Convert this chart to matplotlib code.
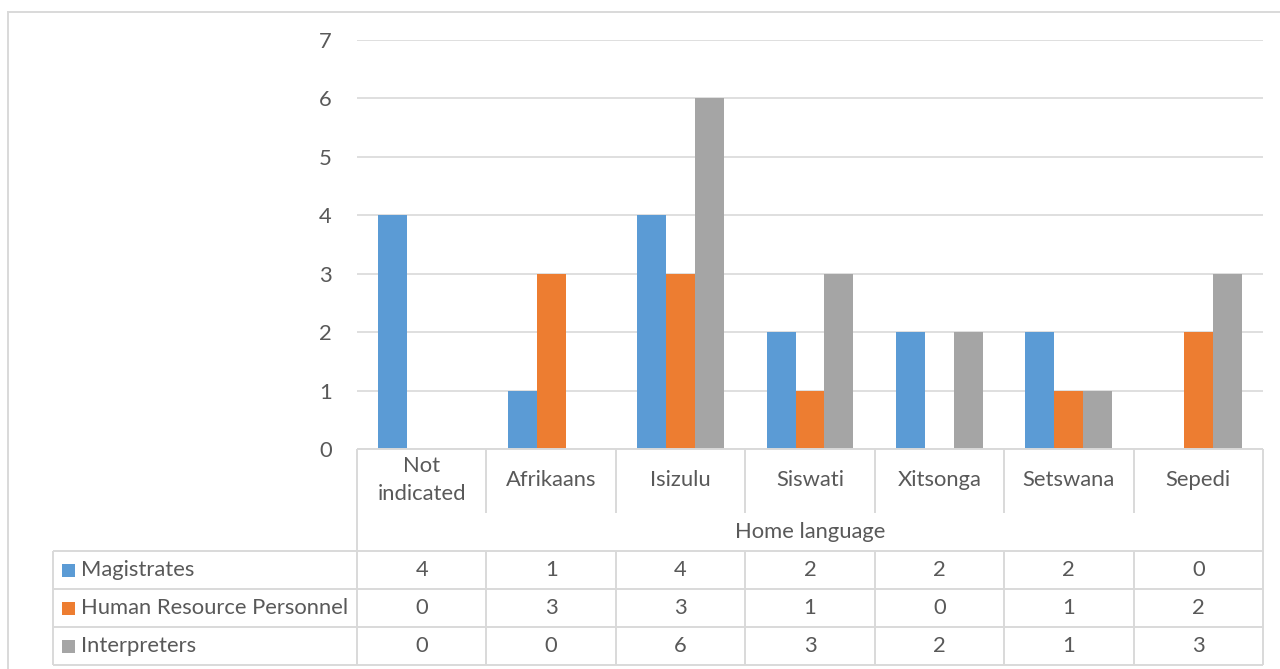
import matplotlib
matplotlib.use("Agg")
import matplotlib.pyplot as plt
from matplotlib.patches import Rectangle

categories = ["Not\nindicated", "Afrikaans", "Isizulu", "Siswati", "Xitsonga", "Setswana", "Sepedi"]
series_names = ["Magistrates", "Human Resource Personnel", "Interpreters"]
magistrates = [4, 1, 4, 2, 2, 2, 0]
hr_personnel = [0, 3, 3, 1, 0, 1, 2]
interpreters = [0, 0, 6, 3, 2, 1, 3]
axis_title = "Home language"
y_ticks = [0, 1, 2, 3, 4, 5, 6, 7]

series = [magistrates, hr_personnel, interpreters]
colors = ["#5B9BD5", "#ED7D31", "#A5A5A5"]
txt = "#595959"
grid = "#D9D9D9"
FONT = "Lato"
FS = 15.8

W, H = 1280, 669
fig = plt.figure(figsize=(W / 100, H / 100), dpi=100)

# pixel layout
px_left, px_right = 357, 1263
px_top, px_zero = 40, 449
ax = fig.add_axes([px_left / W, 1 - px_zero / H, (px_right - px_left) / W, (px_zero - px_top) / H])
n = len(categories)
ax.set_xlim(0, n)
ax.set_ylim(0, 7)
bw = 0.224
for k, (vals, c) in enumerate(zip(series, colors)):
    xs = [i + 0.5 + (k - 1) * bw for i in range(n)]
    ax.bar(xs, vals, width=bw, color=c, linewidth=0, zorder=3)
ax.set_yticks(y_ticks)
ax.set_yticklabels([str(v) for v in y_ticks], fontname=FONT, fontsize=FS, color=txt)
ax.tick_params(axis="y", length=0, pad=18)
ax.set_xticks([])
for s in ax.spines.values():
    s.set_visible(False)
ax.yaxis.grid(True, color=grid, linewidth=1.2, zorder=0)
ax.set_axisbelow(True)

# overlay in pixel coordinates for the data table
ov = fig.add_axes([0, 0, 1, 1])
ov.set_xlim(0, W)
ov.set_ylim(H, 0)
ov.axis("off")
lw = 1.4

def hline(y, x0, x1):
    ov.plot([x0, x1], [y, y], color=grid, linewidth=lw, solid_capstyle="butt")

def vline(x, y0, y1):
    ov.plot([x, x], [y0, y1], color=grid, linewidth=lw, solid_capstyle="butt")

# outer chart border
ov.plot([7.5, 7.5], [H, 11.5], color=grid, linewidth=1.4)
ov.plot([7.5, W], [11.5, 11.5], color=grid, linewidth=1.4)

colw = (px_right - px_left) / n
col_x = [px_left + i * colw for i in range(n + 1)]
tab_left = 53
row_cat_bottom = 513
row_title_bottom = 551
rows = [551, 589, 627, 665]

# header box
hline(px_zero, px_left, px_right)
vline(px_left, px_zero, row_title_bottom)
vline(px_right, px_zero, row_title_bottom)
for x in col_x[1:-1]:
    vline(x, px_zero, row_cat_bottom)
for i, cat in enumerate(categories):
    ov.text((col_x[i] + col_x[i + 1]) / 2, 480, cat, ha="center", va="center",
            fontname=FONT, fontsize=FS, color=txt, linespacing=1.45)
ov.text((px_left + px_right) / 2, 532, axis_title, ha="center", va="center",
        fontname=FONT, fontsize=FS, color=txt)

# data rows
for y in rows:
    hline(y, tab_left, px_right)
vline(tab_left, rows[0], rows[-1])
for x in col_x:
    vline(x, rows[0], rows[-1])
for r, (name, vals, c) in enumerate(zip(series_names, series, colors)):
    yc = (rows[r] + rows[r + 1]) / 2
    ov.add_patch(Rectangle((62, yc - 6.5), 13, 13, color=c, linewidth=0))
    ov.text(81, yc, name, ha="left", va="center", fontname=FONT, fontsize=FS, color=txt)
    for i, v in enumerate(vals):
        ov.text((col_x[i] + col_x[i + 1]) / 2, yc, str(v), ha="center", va="center",
                fontname=FONT, fontsize=FS, color=txt)

fig.savefig("out.png", dpi=100, facecolor="white")
